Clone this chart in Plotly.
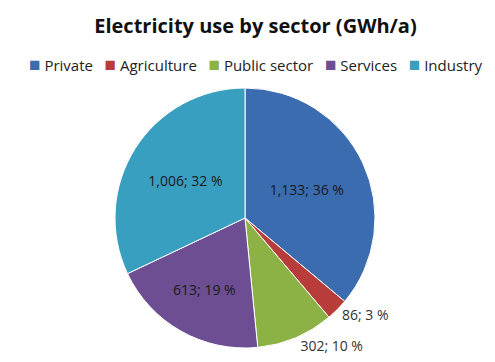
import plotly.graph_objects as go

sectors = ["Private", "Agriculture", "Public sector", "Services", "Industry"]
values = [1133, 86, 302, 613, 1006]
percents = [36, 3, 10, 19, 32]
colors = ["#3B6CB0", "#B83D3A", "#8CB145", "#6D4E92", "#389FC0"]
positions = ["inside", "outside", "outside", "inside", "inside"]

W, H = 495, 362
# domain placement (compensating plotly's offset for outside labels)
cx, cy, r = 237, 210, 130
FONT = "Open Sans, Lato, sans-serif"

fig = go.Figure(go.Pie(
    labels=sectors,
    values=values,
    customdata=percents,
    texttemplate="%{value:,.0f}; %{customdata} %",
    textposition=positions,
    insidetextorientation="horizontal",
    sort=False,
    direction="clockwise",
    rotation=0,
    marker=dict(colors=colors, line=dict(color="white", width=1)),
    textfont=dict(family=FONT, size=14, color="#1a1a1a"),
    outsidetextfont=dict(family=FONT, size=14, color="#333333"),
    domain=dict(x=[(cx - r) / W, (cx + r) / W], y=[1 - (cy + r) / H, 1 - (cy - r) / H]),
    hoverinfo="label+value+percent",
    showlegend=False,
))

# legend drawn as a single text line with coloured squares
parts = []
for name, col in zip(sectors, colors):
    parts.append(f'<span style="color:{col};font-size:19px">■</span> {name}')
legend_text = "   ".join(parts)

fig.add_annotation(
    text=legend_text, xref="paper", yref="paper",
    x=0.5, y=1 - 56 / H, xanchor="center", yanchor="middle",
    showarrow=False, font=dict(family=FONT, size=15, color="#222222"),
)

fig.update_layout(
    width=W, height=H,
    margin=dict(l=0, r=0, t=0, b=0),
    paper_bgcolor="white",
    title=dict(text="<b>Electricity use by sector (GWh/a)</b>",
               x=0.5, xanchor="center", y=1 - 18 / H, yanchor="middle",
               font=dict(family=FONT, size=20, color="#111111")),
)

fig.write_html("out.html")
